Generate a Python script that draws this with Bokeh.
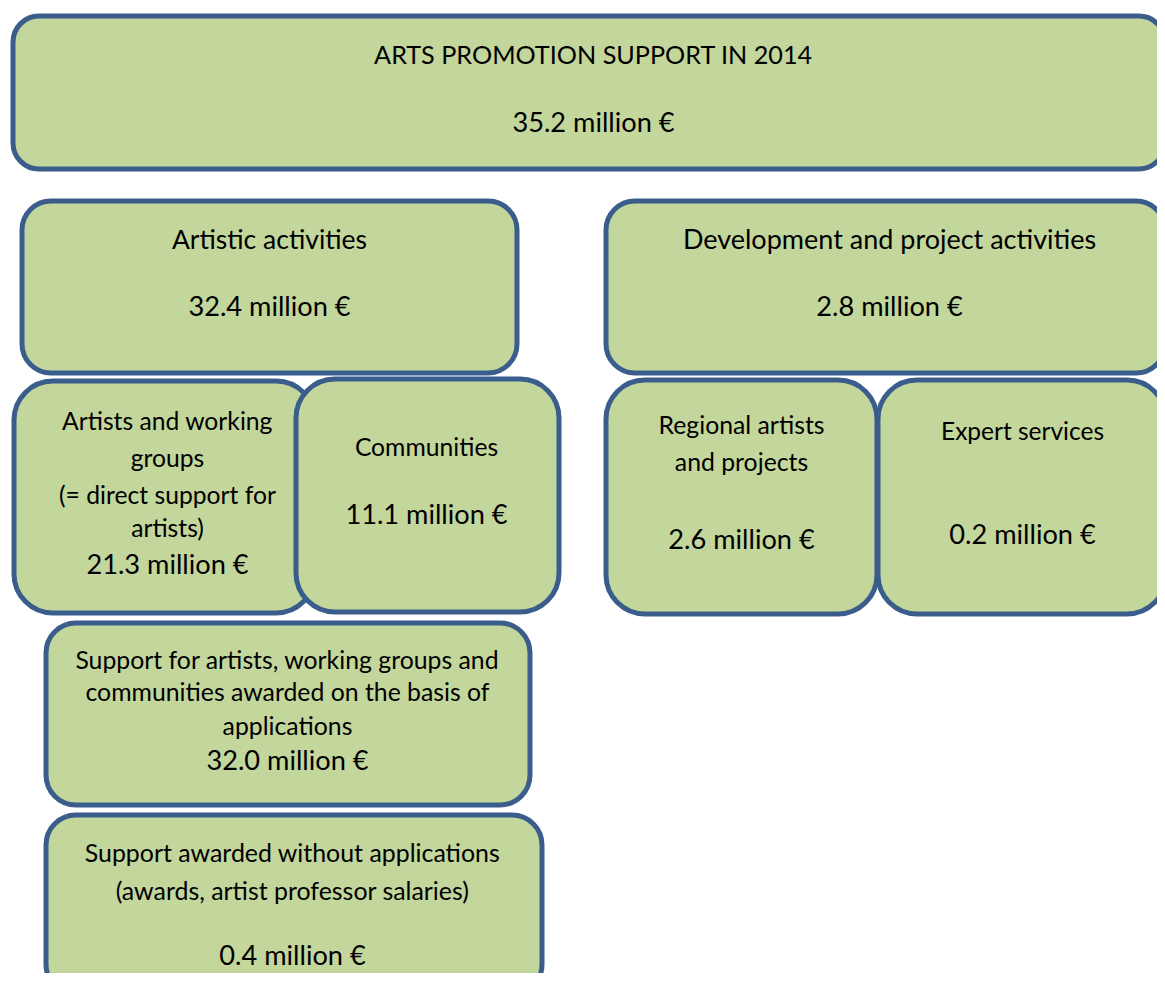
from bokeh.plotting import figure
from bokeh.models import Range1d
from bokeh.core.properties import value
from bokeh.embed import file_html
from bokeh.resources import INLINE

# ---- data ----
titles = [
    "ARTS PROMOTION SUPPORT IN 2014",
    "Artistic activities",
    "Development and project activities",
    "Artists and working\ngroups\n(= direct support for\nartists)",
    "Communities",
    "Regional artists\nand projects",
    "Expert services",
    "Support for artists, working groups and\ncommunities awarded on the basis of\napplications",
    "Support awarded without applications\n(awards, artist professor salaries)",
]
values = [35.2, 32.4, 2.8, 21.3, 11.1, 2.6, 0.2, 32.0, 0.4]
unit = "million €"

# ---- layout (pixel coordinates of the diagram) ----
box_left = [13.5, 22.5, 606.5, 14.5, 296.5, 606.5, 878.5, 46.5, 46.5]
box_right = [1165.5, 517.5, 1165.5, 315.5, 559.5, 877.5, 1166.5, 530.5, 542.5]
box_top = [16.5, 201.5, 201.5, 381.5, 379.5, 380.5, 380.5, 623.5, 815.5]
box_bottom = [169.5, 373.5, 373.5, 613.5, 612.5, 614.5, 614.5, 805.5, 995.0]
text_x = [594, 270, 890, 168, 427, 742, 1023, 288, 293]
label_ys = [[54.5], [239], [239], [420.5, 458, 495, 528], [447], [425, 462], [431],
            [660, 692, 726], [852, 890]]
value_y = [122, 306, 306, 564, 514, 539, 534, 760, 955]
label_size = [25.2, 26.5, 27.0, 24.7, 24.7, 24.8, 24.5, 24.8, 24.9]
value_size = 27.2

FILL = "#C3D69B"
EDGE = "#3A5D8C"
FONT = "Lato"

p = figure(width=1157, height=973, output_backend="svg", toolbar_location=None,
           x_range=Range1d(1, 1158), y_range=Range1d(974, 1),
           min_border=0)
p.axis.visible = False
p.grid.visible = False
p.outline_line_color = None
p.background_fill_color = "white"
p.border_fill_color = "white"

for i in range(len(titles)):
    w = box_right[i] - box_left[i]
    h = box_bottom[i] - box_top[i]
    r = int(round(min(w, h) / 6.0))
    p.quad(left=[box_left[i]], right=[box_right[i]], top=[box_top[i]],
           bottom=[box_bottom[i]], fill_color=FILL, line_color=EDGE,
           line_width=5, border_radius=r)

for i, t in enumerate(titles):
    lines = t.split("\n")
    p.text(x=[text_x[i]] * len(lines), y=label_ys[i], text=lines,
           text_align="center", text_baseline="middle",
           text_font=value(FONT), text_font_size=f"{label_size[i]}px",
           text_color="black")

vt = [f"{v:.1f} {unit}" for v in values]
p.text(x=text_x, y=value_y, text=vt, text_align="center", text_baseline="middle",
       text_font=value(FONT), text_font_size=f"{value_size}px", text_color="black")

open("out.html", "w").write(file_html(p, INLINE))
